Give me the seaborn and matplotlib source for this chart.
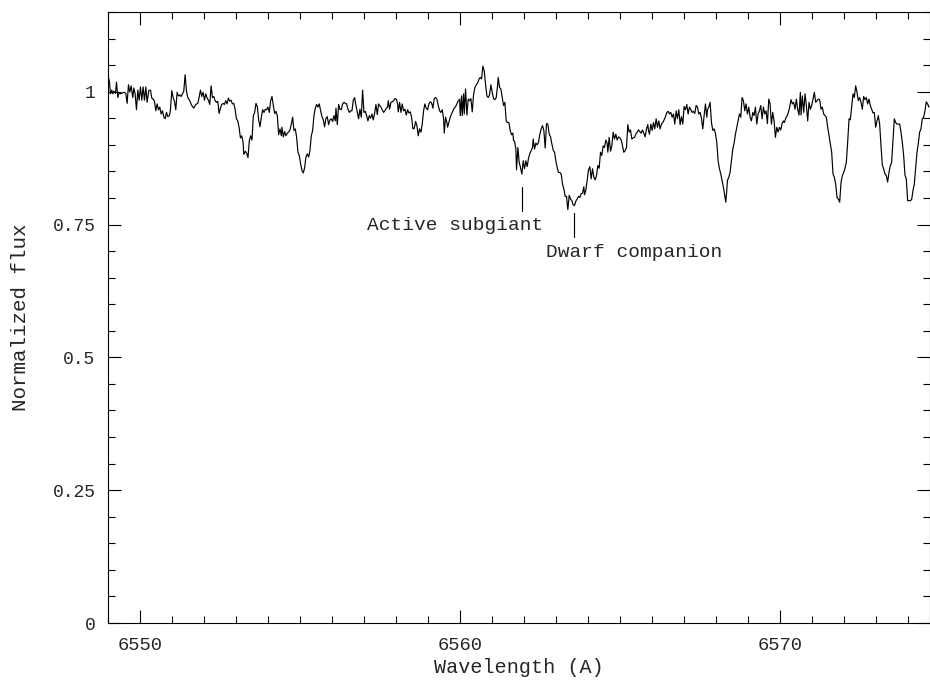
import numpy as np
import pandas as pd
import seaborn as sns
import matplotlib
matplotlib.use("Agg")
import matplotlib.pyplot as plt
from matplotlib.ticker import MultipleLocator, FuncFormatter

# ---- data ----
wavelength = [
    6548.994, 6549.015, 6549.046, 6549.078, 6549.119, 6549.150, 6549.182, 6549.234, 6549.265, 6549.307,
    6549.348, 6549.390, 6549.432, 6549.494, 6549.557, 6549.598, 6549.640, 6549.682, 6549.723, 6549.775,
    6549.807, 6549.848, 6549.890, 6549.932, 6549.973, 6550.015, 6550.057, 6550.098, 6550.140, 6550.182,
    6550.223, 6550.275, 6550.328, 6550.369, 6550.411, 6550.453, 6550.494, 6550.536, 6550.578, 6550.619,
    6550.661, 6550.703, 6550.744, 6550.786, 6550.828, 6550.869, 6550.921, 6550.953, 6550.994, 6551.036,
    6551.078, 6551.119, 6551.161, 6551.203, 6551.244, 6551.286, 6551.328, 6551.369, 6551.411, 6551.453,
    6551.494, 6551.557, 6551.619, 6551.682, 6551.744, 6551.807, 6551.848, 6551.890, 6551.932, 6551.973,
    6552.015, 6552.057, 6552.098, 6552.140, 6552.182, 6552.223, 6552.265, 6552.307, 6552.348, 6552.390,
    6552.432, 6552.473, 6552.515, 6552.557, 6552.598, 6552.640, 6552.682, 6552.723, 6552.765, 6552.807,
    6552.848, 6552.890, 6552.932, 6552.973, 6553.015, 6553.057, 6553.098, 6553.140, 6553.182, 6553.223,
    6553.244,
    6553.294, 6553.335, 6553.377, 6553.419, 6553.460, 6553.502, 6553.544, 6553.585, 6553.627, 6553.669,
    6553.710, 6553.752, 6553.794, 6553.835, 6553.877, 6553.919, 6553.960, 6554.002, 6554.044, 6554.085,
    6554.127, 6554.169, 6554.210, 6554.252, 6554.294, 6554.335, 6554.377, 6554.419, 6554.439, 6554.481,
    6554.523, 6554.564, 6554.606, 6554.648, 6554.689, 6554.731, 6554.773, 6554.814, 6554.856, 6554.898,
    6554.939, 6554.981, 6555.023, 6555.064, 6555.106, 6555.148, 6555.189, 6555.231, 6555.273, 6555.314,
    6555.356, 6555.398, 6555.439, 6555.481, 6555.523, 6555.564, 6555.606, 6555.648, 6555.689, 6555.731,
    6555.773, 6555.814, 6555.856, 6555.898, 6555.939, 6555.981, 6556.023, 6556.064, 6556.106, 6556.127,
    6556.169, 6556.210, 6556.252, 6556.294, 6556.335, 6556.377, 6556.419, 6556.460, 6556.502, 6556.544,
    6556.585, 6556.627, 6556.669, 6556.710, 6556.752, 6556.794, 6556.835, 6556.877, 6556.919, 6556.960,
    6557.002, 6557.044, 6557.085, 6557.127, 6557.169, 6557.210, 6557.252, 6557.294, 6557.335, 6557.377,
    6557.419, 6557.460,
    6557.492, 6557.533, 6557.575, 6557.617, 6557.658, 6557.700, 6557.742, 6557.763, 6557.804, 6557.846,
    6557.888, 6557.929, 6557.971, 6558.013, 6558.054, 6558.075, 6558.117, 6558.158, 6558.200, 6558.242,
    6558.283, 6558.325, 6558.367, 6558.408, 6558.450, 6558.492, 6558.533, 6558.575, 6558.617, 6558.658,
    6558.700, 6558.742, 6558.783, 6558.825, 6558.867, 6558.908, 6558.950, 6558.992, 6559.033, 6559.075,
    6559.117, 6559.158, 6559.200, 6559.242, 6559.283, 6559.325, 6559.367, 6559.408, 6559.450, 6559.492,
    6559.513, 6559.554, 6559.596, 6559.617, 6559.658, 6559.700, 6559.742, 6559.783, 6559.825, 6559.867,
    6559.908, 6559.950, 6559.992, 6560.013, 6560.054, 6560.075, 6560.117, 6560.138, 6560.179, 6560.221,
    6560.263, 6560.304, 6560.346, 6560.388, 6560.429, 6560.471, 6560.513, 6560.554, 6560.596, 6560.638,
    6560.679, 6560.721, 6560.763, 6560.804, 6560.846, 6560.888, 6560.929, 6560.971, 6561.013, 6561.054,
    6561.096, 6561.138, 6561.179, 6561.200, 6561.242, 6561.283, 6561.325, 6561.367, 6561.408, 6561.450,
    6561.492, 6561.533, 6561.575, 6561.617, 6561.658, 6561.679,
    6561.711, 6561.752, 6561.773, 6561.815, 6561.856, 6561.898, 6561.940, 6561.981, 6562.023, 6562.065,
    6562.106, 6562.148, 6562.190, 6562.231, 6562.273, 6562.294, 6562.336, 6562.377, 6562.419, 6562.461,
    6562.502, 6562.544, 6562.586, 6562.627, 6562.669, 6562.711, 6562.752, 6562.794, 6562.836, 6562.877,
    6562.919, 6562.961, 6563.002, 6563.044, 6563.086, 6563.127, 6563.169, 6563.211, 6563.252, 6563.294,
    6563.336, 6563.377, 6563.419, 6563.461, 6563.502, 6563.544, 6563.586, 6563.627, 6563.669, 6563.711,
    6563.752, 6563.794, 6563.836, 6563.877, 6563.898, 6563.940, 6563.981, 6564.023, 6564.065, 6564.106,
    6564.148, 6564.190, 6564.231, 6564.273, 6564.315, 6564.356, 6564.398, 6564.440, 6564.481, 6564.523,
    6564.565, 6564.606, 6564.627, 6564.669, 6564.711, 6564.752, 6564.794, 6564.836, 6564.877, 6564.919,
    6564.961, 6565.002, 6565.044, 6565.086, 6565.127, 6565.169, 6565.211, 6565.252, 6565.294, 6565.336,
    6565.377, 6565.419, 6565.461, 6565.502, 6565.544, 6565.586, 6565.627, 6565.669, 6565.711, 6565.752,
    6565.794, 6565.836, 6565.877, 6565.898,
    6565.929, 6565.971, 6566.013, 6566.054, 6566.096, 6566.138, 6566.179, 6566.221, 6566.263, 6566.304,
    6566.346, 6566.388, 6566.429, 6566.471, 6566.513, 6566.554, 6566.596, 6566.638, 6566.679, 6566.721,
    6566.763, 6566.804, 6566.846, 6566.888, 6566.929, 6566.971, 6567.013, 6567.054, 6567.096, 6567.138,
    6567.179, 6567.221, 6567.263, 6567.304, 6567.346, 6567.388, 6567.429, 6567.471, 6567.513, 6567.554,
    6567.596, 6567.638, 6567.679, 6567.721, 6567.742, 6567.783, 6567.825, 6567.867, 6567.909, 6567.950,
    6567.992, 6568.034, 6568.075, 6568.117, 6568.159, 6568.200, 6568.242, 6568.284, 6568.315, 6568.346,
    6568.367, 6568.409, 6568.450, 6568.492, 6568.534, 6568.575, 6568.617, 6568.659, 6568.700, 6568.742,
    6568.784, 6568.825, 6568.867, 6568.909, 6568.950, 6568.992, 6569.034, 6569.075, 6569.117, 6569.159,
    6569.200, 6569.242, 6569.284, 6569.325, 6569.367, 6569.409, 6569.450, 6569.492, 6569.534, 6569.575,
    6569.617, 6569.659, 6569.700, 6569.742, 6569.784, 6569.825, 6569.867, 6569.909, 6569.950, 6569.992,
    6570.034, 6570.075, 6570.117,
    6570.147, 6570.188, 6570.230, 6570.272, 6570.313, 6570.355, 6570.397, 6570.438, 6570.480, 6570.522,
    6570.563, 6570.605, 6570.647, 6570.668, 6570.709, 6570.751, 6570.793, 6570.834, 6570.876, 6570.918,
    6570.959, 6571.001, 6571.043, 6571.084, 6571.126, 6571.168, 6571.209, 6571.251, 6571.293, 6571.334,
    6571.376, 6571.418, 6571.459, 6571.501, 6571.543, 6571.584, 6571.626, 6571.668, 6571.709, 6571.751,
    6571.793, 6571.834, 6571.876, 6571.918, 6571.959, 6572.001, 6572.043, 6572.084, 6572.126, 6572.168,
    6572.209, 6572.251, 6572.293, 6572.334, 6572.376, 6572.418, 6572.459, 6572.501, 6572.543, 6572.584,
    6572.626, 6572.668, 6572.709, 6572.751, 6572.793, 6572.834, 6572.876, 6572.918, 6572.959, 6573.001,
    6573.043, 6573.084, 6573.126, 6573.168, 6573.209, 6573.251, 6573.293, 6573.334, 6573.376, 6573.418,
    6573.459, 6573.501, 6573.543, 6573.584, 6573.626, 6573.668, 6573.709, 6573.751, 6573.793, 6573.834,
    6573.876, 6573.918, 6573.959, 6574.001, 6574.043, 6574.084, 6574.126, 6574.168, 6574.209, 6574.251,
    6574.293, 6574.334, 6574.376, 6574.418, 6574.459, 6574.501, 6574.543, 6574.584, 6574.626, 6574.668,
]

flux = [
    1.008, 1.027, 1.018, 0.996, 1.003, 0.996, 1.001, 0.997, 1.018, 0.989,
    0.999, 0.996, 0.997, 0.999, 0.997, 0.978, 1.013, 0.999, 1.011, 0.989,
    1.007, 0.996, 0.966, 1.003, 0.984, 1.009, 0.984, 1.009, 0.984, 1.009,
    0.980, 1.002, 1.003, 0.988, 0.986, 0.982, 0.964, 0.977, 0.966, 0.971,
    0.958, 0.964, 0.953, 0.949, 0.961, 0.953, 0.955, 0.966, 1.002, 0.989,
    0.982, 0.966, 0.999, 0.992, 0.994, 0.991, 0.996, 1.001, 1.032, 1.001,
    0.989, 0.983, 0.974, 0.969, 0.976, 0.978, 0.989, 1.003, 0.991, 0.999,
    0.984, 0.996, 0.988, 0.984, 0.976, 1.011, 0.989, 0.991, 0.983, 0.980,
    0.982, 0.959, 0.969, 0.976, 0.978, 0.976, 0.983, 0.977, 0.988, 0.982,
    0.984, 0.977, 0.978, 0.967, 0.949, 0.945, 0.933, 0.913, 0.917, 0.905,
    0.882,
    0.888, 0.884, 0.876, 0.908, 0.917, 0.909, 0.955, 0.961, 0.978, 0.972,
    0.947, 0.934, 0.952, 0.966, 0.961, 0.967, 0.966, 0.971, 0.961, 0.983,
    0.991, 0.974, 0.959, 0.963, 0.955, 0.919, 0.930, 0.917, 0.933, 0.915,
    0.925, 0.917, 0.922, 0.924, 0.928, 0.939, 0.952, 0.927, 0.930, 0.914,
    0.886, 0.880, 0.864, 0.852, 0.847, 0.857, 0.877, 0.883, 0.877, 0.889,
    0.917, 0.927, 0.955, 0.969, 0.976, 0.971, 0.977, 0.964, 0.953, 0.947,
    0.934, 0.950, 0.953, 0.938, 0.947, 0.949, 0.944, 0.955, 0.945, 0.969,
    0.938, 0.976, 0.967, 0.966, 0.977, 0.980, 0.978, 0.977, 0.967, 0.961,
    0.964, 0.964, 0.984, 0.989, 0.974, 0.961, 0.949, 0.967, 0.952, 1.003,
    0.961, 0.963, 0.955, 0.945, 0.955, 0.950, 0.958, 0.947, 0.959, 0.976,
    0.957, 0.977,
    0.974, 0.971, 0.966, 0.961, 0.964, 0.969, 0.971, 0.983, 0.967, 0.980,
    0.981, 0.983, 0.987, 0.986, 0.977, 0.962, 0.980, 0.961, 0.977, 0.964,
    0.967, 0.956, 0.966, 0.960, 0.962, 0.952, 0.930, 0.931, 0.944, 0.936,
    0.917, 0.930, 0.924, 0.939, 0.964, 0.977, 0.969, 0.966, 0.977, 0.981,
    0.979, 0.969, 0.987, 0.989, 0.986, 0.974, 0.964, 0.961, 0.966, 0.949,
    0.922, 0.952, 0.942, 0.933, 0.942, 0.952, 0.958, 0.964, 0.969, 0.972,
    0.977, 0.983, 0.986, 0.955, 0.992, 0.955, 0.996, 0.958, 1.005, 0.956,
    0.986, 0.983, 0.987, 0.962, 0.994, 1.008, 1.013, 1.016, 1.023, 1.027,
    1.024, 1.048, 1.039, 1.014, 0.992, 0.989, 0.994, 1.013, 0.999, 0.987,
    0.985, 0.989, 1.011, 1.027, 1.008, 1.005, 0.989, 0.974, 0.980, 0.945,
    0.942, 0.942, 0.927, 0.919, 0.922, 0.908,
    0.907, 0.892, 0.853, 0.895, 0.867, 0.857, 0.845, 0.870, 0.855, 0.870,
    0.859, 0.875, 0.884, 0.889, 0.895, 0.911, 0.892, 0.903, 0.900, 0.905,
    0.920, 0.930, 0.936, 0.927, 0.894, 0.940, 0.939, 0.920, 0.915, 0.902,
    0.890, 0.886, 0.870, 0.857, 0.848, 0.848, 0.845, 0.826, 0.817, 0.803,
    0.803, 0.778, 0.805, 0.798, 0.795, 0.787, 0.786, 0.794, 0.798, 0.803,
    0.801, 0.808, 0.809, 0.821, 0.806, 0.815, 0.833, 0.853, 0.859, 0.836,
    0.855, 0.839, 0.834, 0.842, 0.861, 0.856, 0.886, 0.880, 0.898, 0.895,
    0.909, 0.903, 0.886, 0.914, 0.888, 0.898, 0.924, 0.911, 0.920, 0.909,
    0.915, 0.913, 0.909, 0.898, 0.886, 0.889, 0.895, 0.938, 0.924, 0.928,
    0.911, 0.913, 0.914, 0.920, 0.924, 0.928, 0.925, 0.922, 0.928, 0.922,
    0.915, 0.930, 0.938, 0.927,
    0.920, 0.939, 0.927, 0.942, 0.930, 0.949, 0.933, 0.945, 0.930, 0.939,
    0.942, 0.947, 0.953, 0.961, 0.963, 0.958, 0.961, 0.952, 0.958, 0.939,
    0.964, 0.949, 0.966, 0.938, 0.953, 0.939, 0.972, 0.966, 0.976, 0.958,
    0.971, 0.966, 0.961, 0.963, 0.959, 0.974, 0.971, 0.958, 0.961, 0.950,
    0.930, 0.955, 0.977, 0.952, 0.966, 0.971, 0.980, 0.942, 0.927, 0.930,
    0.922, 0.905, 0.870, 0.855, 0.845, 0.833, 0.820, 0.804, 0.792, 0.814,
    0.833, 0.839, 0.848, 0.870, 0.892, 0.903, 0.920, 0.933, 0.945, 0.958,
    0.952, 0.989, 0.983, 0.964, 0.977, 0.958, 0.971, 0.952, 0.945, 0.961,
    0.955, 0.971, 0.939, 0.958, 0.964, 0.974, 0.949, 0.971, 0.958, 0.964,
    0.940, 0.986, 0.977, 0.939, 0.961, 0.945, 0.914, 0.933, 0.924, 0.933,
    0.928, 0.940, 0.945,
    0.942, 0.950, 0.954, 0.961, 0.971, 0.985, 0.977, 0.980, 0.967, 0.986,
    0.967, 0.956, 0.999, 0.956, 0.992, 0.961, 0.996, 0.974, 0.945, 0.980,
    0.967, 0.974, 0.986, 0.999, 0.980, 0.983, 0.986, 0.985, 0.967, 0.971,
    0.958, 0.955, 0.952, 0.933, 0.917, 0.902, 0.886, 0.845, 0.839, 0.826,
    0.801, 0.798, 0.792, 0.829, 0.842, 0.848, 0.856, 0.867, 0.905, 0.949,
    0.947, 0.971, 0.996, 0.989, 1.011, 0.999, 0.983, 0.989, 0.980, 0.967,
    0.991, 0.985, 0.989, 0.977, 0.986, 0.974, 0.967, 0.960, 0.961, 0.933,
    0.945, 0.955, 0.939, 0.898, 0.862, 0.855, 0.845, 0.842, 0.830, 0.848,
    0.861, 0.867, 0.908, 0.949, 0.942, 0.939, 0.939, 0.939, 0.924, 0.905,
    0.880, 0.843, 0.836, 0.795, 0.795, 0.795, 0.797, 0.814, 0.826, 0.855,
    0.886, 0.902, 0.924, 0.930, 0.949, 0.952, 0.964, 0.981, 0.977, 0.971,
]

annotation_labels = ["Active subgiant", "Dwarf companion"]
annotation_wave = [6561.94, 6563.58]
annotation_tick_flux = [(0.776, 0.820), (0.726, 0.771)]
annotation_text_pos = [(6559.86, 0.739), (6565.45, 0.688)]

x_range = (6549.0, 6574.7)
y_range = (0.0, 1.15)
y_major_ticks = [0, 0.25, 0.5, 0.75, 1]
x_major_ticks = [6550, 6560, 6570]

# ---- plotting ----
sns.set_style("ticks")
plt.rcParams["font.family"] = ["Liberation Mono", "DejaVu Sans Mono"]

fig = plt.figure(figsize=(9.30, 6.81), dpi=100)
ax = fig.add_axes([108 / 930, 1 - 623 / 681, 1 - 108 / 930, (623 - 12) / 681])

df = pd.DataFrame({"wavelength": wavelength, "flux": flux})
sns.lineplot(data=df, x="wavelength", y="flux", sort=False, estimator=None,
             color="black", linewidth=0.85, ax=ax)

ax.set_xlim(*x_range)
ax.set_ylim(*y_range)
ax.set_xticks(x_major_ticks)
ax.set_yticks(y_major_ticks)
ax.xaxis.set_minor_locator(MultipleLocator(1))
ax.yaxis.set_minor_locator(MultipleLocator(0.05))
ax.yaxis.set_major_formatter(FuncFormatter(lambda v, p: f"{v:g}"))

ax.tick_params(which="both", direction="in", top=True, right=True,
               color="black", width=0.8)
ax.tick_params(which="major", length=9.5)
ax.tick_params(which="minor", length=5)
ax.tick_params(axis="y", which="major", labelsize=13, pad=9)
ax.tick_params(axis="x", which="major", labelsize=13.5, pad=10)
for s in ax.spines.values():
    s.set_linewidth(0.8)
    s.set_color("black")

ax.set_xlabel("Wavelength (A)", fontsize=14.5, labelpad=3)
ax.set_ylabel("Normalized flux", fontsize=15, labelpad=16)

for lab, w, (f0, f1), (tx, ty) in zip(annotation_labels, annotation_wave,
                                      annotation_tick_flux, annotation_text_pos):
    ax.plot([w, w], [f0, f1], color="black", linewidth=0.85)
    ax.text(tx, ty, lab, ha="center", va="baseline", fontsize=14)

fig.savefig("out.png", dpi=100)
